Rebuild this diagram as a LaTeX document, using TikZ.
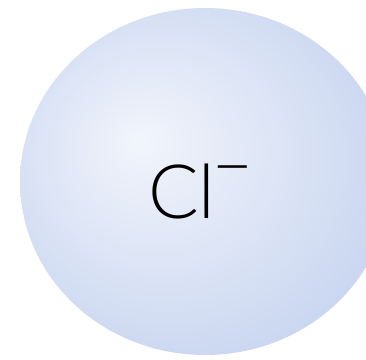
\documentclass[tikz,border=0pt]{standalone}
\usepackage{fontspec}
\newfontfamily\ionfont{Lato}[UprightFont={* Light}]
\definecolor{hl}{HTML}{F2F5FC}
\definecolor{c1}{HTML}{E7ECF8}
\definecolor{c2}{HTML}{DAE3F5}
\definecolor{c3}{HTML}{CCD8F1}
\definecolor{c4}{HTML}{C3D2EE}
\pgfdeclareradialshading{ionball}{\pgfpoint{-9bp}{6bp}}{%
  color(0bp)=(hl); color(8bp)=(c1); color(18bp)=(c2); color(28bp)=(c3); color(36bp)=(c4); color(50bp)=(c4)}
\tikzset{iontext/.style={inner sep=0pt, font=\ionfont\fontsize{75}{75}\selectfont, text=black}}
\begin{document}
\begin{tikzpicture}[x=1pt,y=1pt]
\useasboundingbox (0,0) rectangle (366,359);
\fill[white] (0,0) rectangle (366,359);
\begin{scope}
\clip (0,0) rectangle (366,359);
\shade[shading=ionball] (205,177.5) ellipse [x radius=185, y radius=173.5];
\end{scope}
\node[iontext, anchor=base west] (ion) at (148,141) {Cl\kern-3pt\raisebox{28pt}{\fontsize{70}{70}\selectfont −}};
\end{tikzpicture}
\end{document}
